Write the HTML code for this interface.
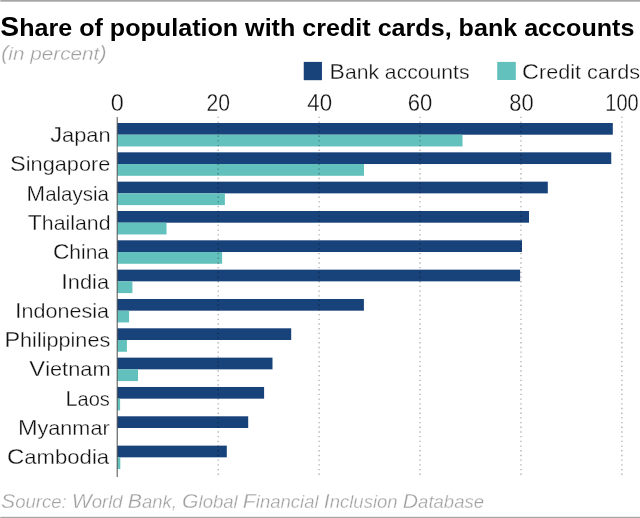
<!DOCTYPE html>
<html><head><meta charset="utf-8"><title>Share of population with credit cards, bank accounts</title>
<style>
html,body{margin:0;padding:0;background:#fff;width:640px;height:518px;overflow:hidden}
svg{display:block;font-family:"Liberation Sans",Arial,sans-serif}
text.t{stroke:#fff;stroke-width:0.3px}
</style></head><body>
<svg width="640" height="518" viewBox="0 0 640 518">
<rect x="0.3" y="0" width="639.7" height="1.7" fill="#a6a6a6"/>
<rect x="0.3" y="516.8" width="639.7" height="1.2" fill="#a6a6a6"/>
<text x="0.33" y="35.70" font-size="24" fill="#000000" font-weight="bold" textLength="634.05" lengthAdjust="spacingAndGlyphs"><tspan font-size="27">S</tspan>hare of population with credit cards, bank accounts</text>
<text class="t" x="0.91" y="60.00" font-size="17.8" fill="#a0a0a0" font-style="italic" textLength="105.86" lengthAdjust="spacingAndGlyphs"><tspan font-size="19.3">(</tspan>in percent<tspan font-size="19.3">)</tspan></text>
<rect x="303.75" y="61.9" width="18.2" height="18.3" fill="#17427a"/>
<text class="t" x="329.58" y="78.60" font-size="21" fill="#111111" textLength="139.95" lengthAdjust="spacingAndGlyphs"><tspan font-size="22.8">B</tspan>ank accounts</text>
<rect x="497.2" y="61.9" width="18.6" height="18.1" fill="#62c1bc"/>
<text class="t" x="522.08" y="78.60" font-size="21" fill="#111111" textLength="117.91" lengthAdjust="spacingAndGlyphs"><tspan font-size="22.8">C</tspan>redit cards</text>
<text class="t" x="110.85" y="111.00" font-size="24" fill="#111111" textLength="13.05" lengthAdjust="spacingAndGlyphs">0</text>
<text class="t" x="206.42" y="111.00" font-size="24" fill="#111111" textLength="23.54" lengthAdjust="spacingAndGlyphs">20</text>
<text class="t" x="307.25" y="111.00" font-size="24" fill="#111111" textLength="24.81" lengthAdjust="spacingAndGlyphs">40</text>
<text class="t" x="407.85" y="111.00" font-size="24" fill="#111111" textLength="24.53" lengthAdjust="spacingAndGlyphs">60</text>
<text class="t" x="509.22" y="111.00" font-size="24" fill="#111111" textLength="24.38" lengthAdjust="spacingAndGlyphs">80</text>
<text class="t" x="605.36" y="111.00" font-size="24" fill="#111111" textLength="33.33" lengthAdjust="spacingAndGlyphs">100</text>
<rect x="117.2" y="123.00" width="495.60" height="11.7" fill="#17427a"/>
<rect x="117.2" y="134.70" width="345.30" height="11.75" fill="#62c1bc"/>
<text class="t" x="50.20" y="142.00" font-size="21" fill="#111111" textLength="60.41" lengthAdjust="spacingAndGlyphs"><tspan font-size="22.8">J</tspan>apan</text>
<rect x="117.2" y="152.33" width="494.05" height="11.7" fill="#17427a"/>
<rect x="117.2" y="164.03" width="246.80" height="11.75" fill="#62c1bc"/>
<text class="t" x="10.06" y="171.30" font-size="21" fill="#111111" textLength="100.27" lengthAdjust="spacingAndGlyphs"><tspan font-size="22.8">S</tspan>ingapore</text>
<rect x="117.2" y="181.66" width="430.60" height="11.7" fill="#17427a"/>
<rect x="117.2" y="193.36" width="107.70" height="11.75" fill="#62c1bc"/>
<text class="t" x="26.62" y="200.60" font-size="21" fill="#111111" textLength="82.37" lengthAdjust="spacingAndGlyphs"><tspan font-size="22.8">M</tspan>alaysia</text>
<rect x="117.2" y="210.99" width="411.80" height="11.7" fill="#17427a"/>
<rect x="117.2" y="222.69" width="49.30" height="11.75" fill="#62c1bc"/>
<text class="t" x="27.74" y="229.90" font-size="21" fill="#111111" textLength="82.76" lengthAdjust="spacingAndGlyphs"><tspan font-size="22.8">T</tspan>hailand</text>
<rect x="117.2" y="240.32" width="404.80" height="11.7" fill="#17427a"/>
<rect x="117.2" y="252.02" width="104.90" height="11.75" fill="#62c1bc"/>
<text class="t" x="52.91" y="259.20" font-size="21" fill="#111111" textLength="56.06" lengthAdjust="spacingAndGlyphs"><tspan font-size="22.8">C</tspan>hina</text>
<rect x="117.2" y="269.65" width="402.90" height="11.7" fill="#17427a"/>
<rect x="117.2" y="281.35" width="15.20" height="11.75" fill="#62c1bc"/>
<text class="t" x="61.29" y="288.50" font-size="21" fill="#111111" textLength="47.74" lengthAdjust="spacingAndGlyphs"><tspan font-size="22.8">I</tspan>ndia</text>
<rect x="117.2" y="298.98" width="246.70" height="11.7" fill="#17427a"/>
<rect x="117.2" y="310.68" width="11.90" height="11.75" fill="#62c1bc"/>
<text class="t" x="15.09" y="317.80" font-size="21" fill="#111111" textLength="93.91" lengthAdjust="spacingAndGlyphs"><tspan font-size="22.8">I</tspan>ndonesia</text>
<rect x="117.2" y="328.31" width="174.00" height="11.7" fill="#17427a"/>
<rect x="117.2" y="340.01" width="9.70" height="11.75" fill="#62c1bc"/>
<text class="t" x="4.44" y="347.10" font-size="21" fill="#111111" textLength="105.79" lengthAdjust="spacingAndGlyphs"><tspan font-size="22.8">P</tspan>hilippines</text>
<rect x="117.2" y="357.64" width="155.30" height="11.7" fill="#17427a"/>
<rect x="117.2" y="369.34" width="20.80" height="11.75" fill="#62c1bc"/>
<text class="t" x="29.37" y="376.40" font-size="21" fill="#111111" textLength="81.21" lengthAdjust="spacingAndGlyphs"><tspan font-size="22.8">V</tspan>ietnam</text>
<rect x="117.2" y="386.97" width="146.90" height="11.7" fill="#17427a"/>
<rect x="117.2" y="398.67" width="2.90" height="11.75" fill="#62c1bc"/>
<text class="t" x="65.43" y="405.70" font-size="21" fill="#111111" textLength="44.47" lengthAdjust="spacingAndGlyphs"><tspan font-size="22.8">L</tspan>aos</text>
<rect x="117.2" y="416.30" width="131.00" height="11.7" fill="#17427a"/>
<rect x="117.2" y="428.00" width="0.40" height="11.75" fill="#62c1bc"/>
<text class="t" x="17.96" y="435.00" font-size="21" fill="#111111" textLength="91.66" lengthAdjust="spacingAndGlyphs"><tspan font-size="22.8">M</tspan>yanmar</text>
<rect x="117.2" y="445.63" width="109.60" height="11.7" fill="#17427a"/>
<rect x="117.2" y="457.33" width="3.10" height="11.75" fill="#62c1bc"/>
<text class="t" x="6.97" y="464.30" font-size="21" fill="#111111" textLength="102.17" lengthAdjust="spacingAndGlyphs"><tspan font-size="22.8">C</tspan>ambodia</text>
<line x1="218.14" y1="116.75" x2="218.14" y2="477" stroke="#000" stroke-opacity="0.4" stroke-width="1.05" stroke-dasharray="1.35 3.345"/>
<line x1="319.08" y1="116.75" x2="319.08" y2="477" stroke="#000" stroke-opacity="0.4" stroke-width="1.05" stroke-dasharray="1.35 3.345"/>
<line x1="420.02" y1="116.75" x2="420.02" y2="477" stroke="#000" stroke-opacity="0.4" stroke-width="1.05" stroke-dasharray="1.35 3.345"/>
<line x1="520.96" y1="116.75" x2="520.96" y2="477" stroke="#000" stroke-opacity="0.4" stroke-width="1.05" stroke-dasharray="1.35 3.345"/>
<line x1="621.90" y1="116.75" x2="621.90" y2="477" stroke="#000" stroke-opacity="0.4" stroke-width="1.05" stroke-dasharray="1.35 3.345"/>
<line x1="117.2" y1="117" x2="117.2" y2="477" stroke="#4d4d4d" stroke-width="1"/>
<text class="t" x="1.05" y="507.80" font-size="17.5" fill="#a0a0a0" font-style="italic" textLength="482.97" lengthAdjust="spacingAndGlyphs"><tspan font-size="20">S</tspan>ource: <tspan font-size="20">W</tspan>orld <tspan font-size="20">B</tspan>ank, <tspan font-size="20">G</tspan>lobal <tspan font-size="20">F</tspan>inancial <tspan font-size="20">I</tspan>nclusion <tspan font-size="20">D</tspan>atabase</text>
</svg>
</body></html>
